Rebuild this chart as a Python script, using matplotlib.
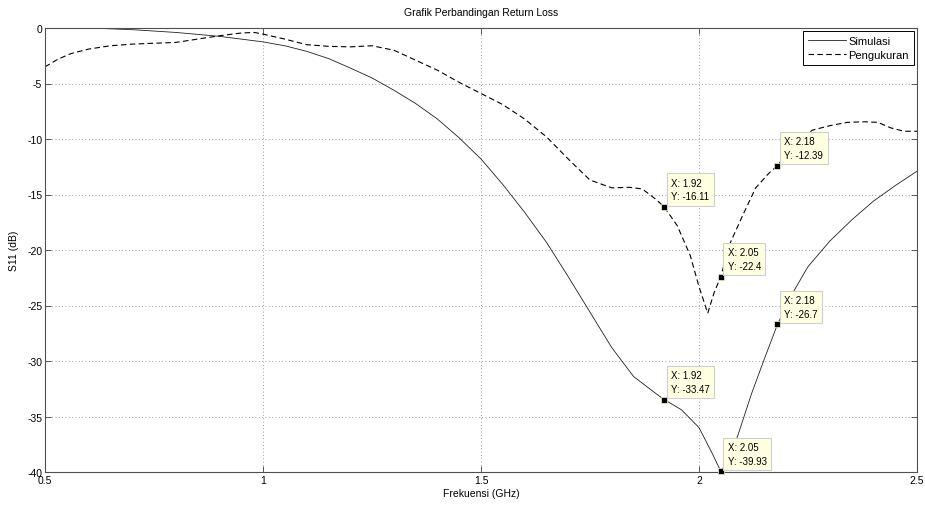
import matplotlib
matplotlib.use("Agg")
import matplotlib.pyplot as plt

plt.rcParams['font.family'] = ['Liberation Sans', 'DejaVu Sans']
plt.rcParams['axes.unicode_minus'] = False

# simulasi (solid)
sim_f = [0.6, 0.7, 0.8, 0.9, 1.0, 1.05, 1.1, 1.15, 1.2, 1.25, 1.3, 1.35, 1.4, 1.45,
         1.5, 1.55, 1.6, 1.65, 1.7, 1.75, 1.8, 1.85, 1.9, 1.92, 1.96, 2.0, 2.03, 2.05,
         2.07, 2.09, 2.12, 2.15, 2.18, 2.21, 2.25, 2.3, 2.35, 2.4, 2.45, 2.5]
sim_db = [0.0, -0.15, -0.4, -0.75, -1.25, -1.6, -2.1, -2.75, -3.6, -4.5, -5.6, -6.8,
          -8.2, -9.9, -11.8, -14.1, -16.6, -19.3, -22.4, -25.6, -28.8, -31.4, -32.9,
          -33.47, -34.4, -36.0, -38.3, -39.93, -38.8, -36.6, -33.0, -29.8, -26.7, -24.2,
          -21.5, -19.2, -17.3, -15.6, -14.2, -12.9]

# pengukuran (dashed)
meas_f = [0.5, 0.53, 0.56, 0.6, 0.65, 0.7, 0.8, 0.85, 0.9, 0.95, 0.98, 1.0, 1.05, 1.1,
          1.15, 1.2, 1.25, 1.3, 1.35, 1.4, 1.45, 1.5, 1.55, 1.6, 1.65, 1.7, 1.75, 1.8,
          1.84, 1.87, 1.9, 1.92, 1.95, 1.98, 2.0, 2.02, 2.035, 2.05, 2.07, 2.1, 2.13,
          2.16, 2.18, 2.22, 2.26, 2.3, 2.34, 2.38, 2.41, 2.44, 2.47, 2.5]
meas_db = [-3.5, -2.8, -2.3, -1.9, -1.6, -1.45, -1.3, -1.0, -0.7, -0.45, -0.4, -0.55,
           -1.0, -1.5, -1.65, -1.7, -1.6, -2.0, -2.9, -3.8, -4.9, -5.9, -6.9, -8.2, -9.8,
           -11.8, -13.7, -14.4, -14.35, -14.5, -15.4, -16.11, -17.8, -20.5, -23.3, -25.7,
           -23.8, -22.4, -19.5, -16.9, -14.4, -13.1, -12.39, -10.5, -9.2, -8.8, -8.5,
           -8.45, -8.5, -9.0, -9.3, -9.3]

# data tips: (x, y, label)
tips = [(1.92, -16.11, "X: 1.92\nY: -16.11"),
        (2.05, -22.4, "X: 2.05\nY: -22.4"),
        (2.18, -12.39, "X: 2.18\nY: -12.39"),
        (1.92, -33.47, "X: 1.92\nY: -33.47"),
        (2.05, -39.93, "X: 2.05\nY: -39.93"),
        (2.18, -26.7, "X: 2.18\nY: -26.7")]

xticks = [0.5, 1, 1.5, 2, 2.5]
xlabels = ["0.5", "1", "1.5", "2", "2.5"]
yticks = [0, -5, -10, -15, -20, -25, -30, -35, -40]

fig = plt.figure(figsize=(9.25, 5.06), dpi=100)
ax = fig.add_axes([45 / 925, 1 - 473 / 506, 872 / 925, 444 / 506])

ax.plot(sim_f, sim_db, color='#202020', lw=0.6, label='Simulasi')
ax.plot(meas_f, meas_db, color='black', lw=0.8, linestyle=(0, (5, 3)), label='Pengukuran')

for x, y, txt in tips:
    ax.plot(x, y, 's', color='black', markersize=5, markeredgecolor='#f5f5d0',
            markeredgewidth=0.5, zorder=5, clip_on=False)
    ax.annotate(txt, (x, y), xytext=(5, 4), textcoords='offset points',
                ha='left', va='bottom', fontsize=7, linespacing=1.45,
                bbox=dict(boxstyle='square,pad=0.45', fc='#ffffe1', ec='#cfcfcf', lw=0.8),
                zorder=6)

ax.set_xlim(0.5, 2.5)
ax.set_ylim(-40, 0)
ax.set_xticks(xticks)
ax.set_xticklabels(xlabels)
ax.set_yticks(yticks)
ax.grid(True, linestyle=(0, (1, 3)), color='#808080', lw=0.6)
ax.tick_params(direction='in', length=4, width=0.6, labelsize=7.5, top=True, right=True,
               colors='#404040', labelcolor='black', pad=2)
for s in ax.spines.values():
    s.set_color('#505050')
    s.set_linewidth(0.8)

ax.set_title('Grafik Perbandingan Return Loss', fontsize=7.5, pad=9)
ax.set_xlabel('Frekuensi (GHz)', fontsize=7.5, labelpad=2)
ax.set_ylabel('S11 (dB)', fontsize=7.5, labelpad=6)

leg = ax.legend(loc='upper right', fontsize=8, fancybox=False, framealpha=1,
                edgecolor='black', borderaxespad=0.3, handlelength=3.4,
                handletextpad=0.2, borderpad=0.45, labelspacing=0.35)
leg.get_frame().set_linewidth(0.7)

fig.savefig('out.png', dpi=100)
